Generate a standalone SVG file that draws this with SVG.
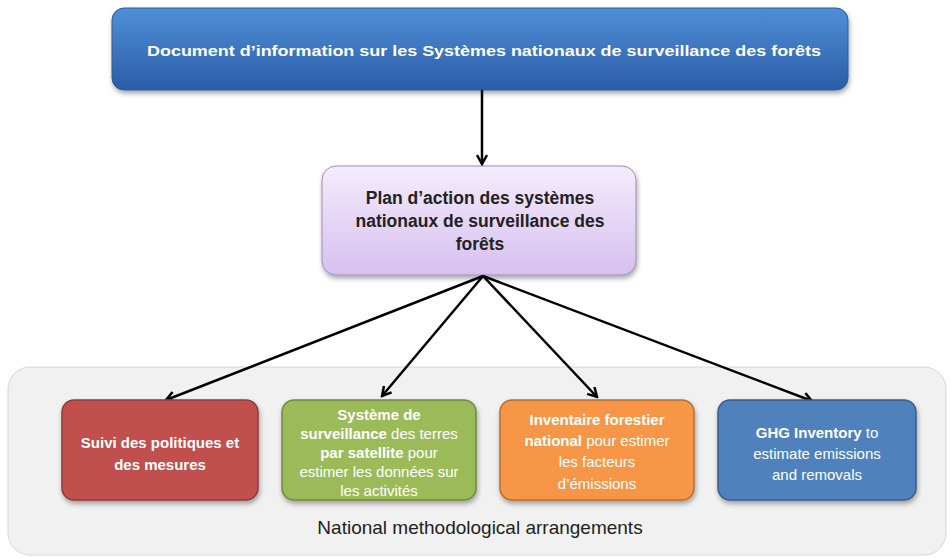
<svg xmlns="http://www.w3.org/2000/svg" width="950" height="558" viewBox="0 0 950 558">
<defs>
<linearGradient id="gTop" x1="0" y1="0" x2="0" y2="1">
<stop offset="0" stop-color="#4f8fd8"/><stop offset="1" stop-color="#2b5ca6"/>
</linearGradient>
<linearGradient id="gMid" x1="0" y1="0" x2="0" y2="1">
<stop offset="0" stop-color="#f4ecfc"/><stop offset="1" stop-color="#d6c0ee"/>
</linearGradient>
<filter id="sh" x="-10%" y="-10%" width="120%" height="130%">
<feDropShadow dx="1" dy="3" stdDeviation="2.5" flood-color="#000" flood-opacity="0.35"/>
</filter>
<marker id="arr" markerWidth="12" markerHeight="12" refX="10" refY="6" orient="auto" markerUnits="userSpaceOnUse">
<path d="M1,1 L10,6 L1,11" fill="none" stroke="#000" stroke-width="2.5"/>
</marker>
<style>
text{font-family:"Liberation Sans",Arial,sans-serif;text-anchor:middle}
.w{fill:#fff;font-size:15px}
.b{font-weight:bold}
.conn line{stroke:#000;stroke-width:2.5;marker-end:url(#arr)}
</style>
</defs>
<rect x="0" y="0" width="950" height="558" fill="#fff"/>
<g id="container">
<rect x="8" y="367" width="938" height="188" rx="22" fill="#f1f1f1" stroke="#d6d6d6" stroke-width="1"/>
<text x="480" y="534" font-size="19" fill="#222">National methodological arrangements</text>
</g>
<g id="top">
<rect x="112" y="8" width="736" height="82" rx="12" fill="url(#gTop)" stroke="#2c5c9e" stroke-width="1" filter="url(#sh)"/>
<text x="484" y="56" class="b" font-size="15.5" fill="#fff" textLength="674" lengthAdjust="spacingAndGlyphs">Document d’information sur les Systèmes nationaux de surveillance des forêts</text>
</g>
<g id="plan">
<rect x="322" y="166" width="314" height="109" rx="14" fill="url(#gMid)" stroke="#9f8bb8" stroke-width="1" filter="url(#sh)"/>
<g class="b" font-size="17.5" fill="#222">
<text x="480" y="204">Plan d’action des systèmes</text>
<text x="480" y="227">nationaux de surveillance des</text>
<text x="480" y="250">forêts</text>
</g>
</g>
<g class="conn">
<line x1="482" y1="90" x2="482" y2="164"/>
<line x1="483" y1="276" x2="166" y2="400"/>
<line x1="483" y1="276" x2="382" y2="396"/>
<line x1="483" y1="276" x2="597" y2="397"/>
<line x1="483" y1="276" x2="812" y2="401"/>
</g>
<g id="suivi">
<rect x="62" y="400" width="196" height="100" rx="12" fill="#c0504d" stroke="#8e3a38" stroke-width="1.5" filter="url(#sh)"/>
<text x="160" y="448" class="w b">Suivi des politiques et</text>
<text x="160" y="470" class="w b">des mesures</text>
</g>
<g id="satellite">
<rect x="282" y="400" width="194" height="100" rx="12" fill="#9bbb59" stroke="#71893f" stroke-width="1.5" filter="url(#sh)"/>
<text x="379" y="420" class="w b">Système de</text>
<text x="379" y="439" class="w"><tspan class="b">surveillance</tspan> des terres</text>
<text x="379" y="458" class="w"><tspan class="b">par satellite</tspan> pour</text>
<text x="379" y="477" class="w">estimer les données sur</text>
<text x="379" y="496" class="w">les activités</text>
</g>
<g id="inventaire">
<rect x="500" y="400" width="194" height="100" rx="12" fill="#f79646" stroke="#b66d31" stroke-width="1.5" filter="url(#sh)"/>
<text x="597" y="425" class="w b">Inventaire forestier</text>
<text x="597" y="446" class="w"><tspan class="b">national</tspan> pour estimer</text>
<text x="597" y="467" class="w">les facteurs</text>
<text x="597" y="489" class="w">d’émissions</text>
</g>
<g id="ghg">
<rect x="718" y="400" width="198" height="100" rx="12" fill="#4f81bd" stroke="#385d8a" stroke-width="1.5" filter="url(#sh)"/>
<text x="817" y="438" class="w"><tspan class="b">GHG Inventory</tspan> to</text>
<text x="817" y="459" class="w">estimate emissions</text>
<text x="817" y="480" class="w">and removals</text>
</g>
</svg>
